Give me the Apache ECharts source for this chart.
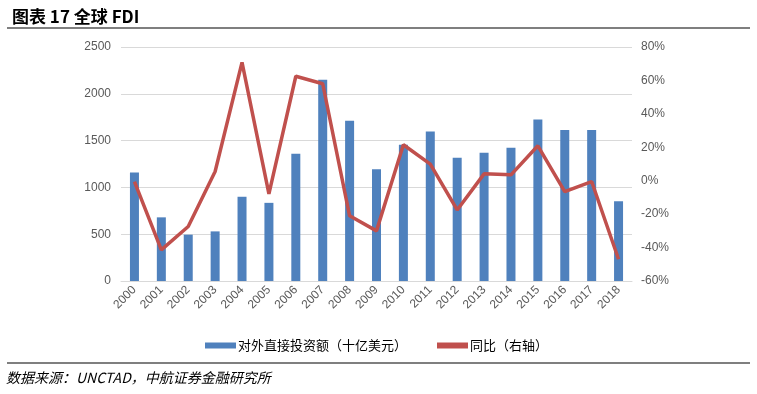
<!DOCTYPE html>
<html><head><meta charset="utf-8">
<script src="https://cdn.jsdelivr.net/npm/echarts@6/dist/echarts.min.js"></script>
<style>html,body{margin:0;padding:0;background:#fff;}#c{width:757px;height:394px;}</style>
</head><body><div id="c"></div>
<script>
const years = ['2000','2001','2002','2003','2004','2005','2006','2007','2008','2009','2010','2011','2012','2013','2014','2015','2016','2017','2018'];
const fdi = [1160,680,495,530,900,835,1360,2150,1712,1195,1455,1598,1316,1369,1423,1726,1612,1612,852];
const yoy = [-0.5,-41.4,-27.4,5.5,70.8,-7.9,62.5,58,-21,-30,21.5,9.9,-17.5,4.1,3.5,20.9,-6.5,-0.5,-47];
const leftTicks = [0,2500,500];
const rightTicks = [-60,80,20];
const titleText = '图表 17 全球 FDI';
const sourceText = '数据来源：UNCTAD，中航证券金融研究所';
const fdiName = '对外直接投资额（十亿美元）';
const yoyName = '同比（右轴）';

const chart = echarts.init(document.getElementById('c'));
const axisFont = {color:'#595959', fontSize:12, fontFamily:'Liberation Sans, Arial, sans-serif'};
chart.setOption({
  animation:false,
  title:{text:titleText,left:7,top:3,textStyle:{fontSize:17,fontWeight:'bold',color:'#000',fontFamily:'Noto Sans CJK SC'}},
  grid:{left:121,right:125,top:47,bottom:113,containLabel:false},
  legend:{top:334,left:200,itemGap:30,itemWidth:31,itemHeight:6,
    textStyle:{fontSize:13,color:'#000',fontFamily:'Noto Sans CJK SC',padding:[0,0,0,-3]},
    data:[{name:fdiName,icon:'rect'},{name:yoyName,icon:'rect',itemStyle:{color:'#C0504D'}}]},
  xAxis:{type:'category',data:years,axisTick:{show:false},
    axisLine:{lineStyle:{color:'#D9D9D9'}},
    axisLabel:Object.assign({rotate:45,margin:7,interval:0},axisFont)},
  yAxis:[
    {type:'value',min:leftTicks[0],max:leftTicks[1],interval:leftTicks[2],
     axisLabel:Object.assign({margin:10,formatter:v=>String(v)},axisFont),
     splitLine:{lineStyle:{color:'#D9D9D9'}},axisLine:{show:false},axisTick:{show:false}},
    {type:'value',min:rightTicks[0],max:rightTicks[1],interval:rightTicks[2],
     axisLabel:Object.assign({margin:9,formatter:v=>v+'%'},axisFont),
     splitLine:{show:false},axisLine:{show:false},axisTick:{show:false}}
  ],
  series:[
    {name:fdiName,type:'bar',data:fdi,barWidth:9,itemStyle:{color:'#4F81BD'}},
    {name:yoyName,type:'line',yAxisIndex:1,data:yoy,symbol:'none',
     lineStyle:{color:'#C0504D',width:3.5},itemStyle:{color:'#C0504D'}}
  ],
  graphic:[
    {type:'line',shape:{x1:7,y1:28,x2:750,y2:28},style:{stroke:'#000',lineWidth:1.2}},
    {type:'line',shape:{x1:7,y1:363,x2:750,y2:363},style:{stroke:'#000',lineWidth:1.2}},
    {type:'text',left:6,top:371,style:{text:sourceText,fontSize:14,fontStyle:'italic',fill:'#000',fontFamily:'Noto Sans CJK SC'}}
  ]
});
</script></body></html>
